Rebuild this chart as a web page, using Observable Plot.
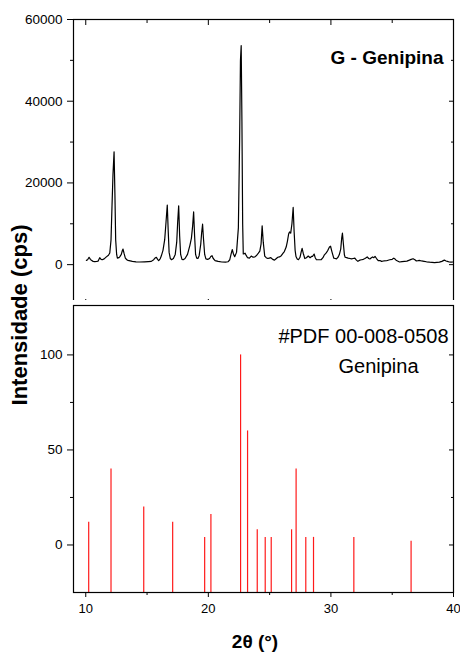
<!DOCTYPE html>
<html>
<head>
<meta charset="utf-8">
<script src="https://cdn.jsdelivr.net/npm/d3@7"></script>
<script src="https://cdn.jsdelivr.net/npm/@observablehq/plot@0.6"></script>
<style>
  html, body { margin: 0; padding: 0; background: #fff; }
  #wrap { position: relative; width: 460px; height: 660px; font-family: Arial, "Liberation Sans", sans-serif; }
  #top, #bot { position: absolute; left: 0; }
  #top { top: 0; }
  #bot { top: 300px; }
  #ylab { position: absolute; left: 20px; top: 315px; transform: translate(-50%, -50%) rotate(-90deg); font-weight: bold; font-size: 22px; white-space: nowrap; }
  #xlab { position: absolute; left: 255px; top: 642px; transform: translate(-50%, -50%); font-weight: bold; font-size: 19px; white-space: nowrap; }
</style>
</head>
<body>
<div id="wrap">
  <div id="top"></div>
  <div id="bot"></div>
  <div id="ylab">Intensidade (cps)</div>
  <div id="xlab">2θ (°)</div>
</div>
<script>
// ---- Data ----
const twoTheta = [10.05,10.15,10.27,10.38,10.46,10.6,10.73,10.9,11.0,11.14,11.25,11.35,11.5,11.68,11.85,11.96,12.06,12.14,12.22,12.31,12.38,12.44,12.52,12.58,12.7,12.77,12.9,12.98,13.04,13.12,13.23,13.35,13.45,13.8,14.1,14.4,14.8,15.1,15.35,15.54,15.65,15.76,15.86,15.95,16.08,16.16,16.3,16.44,16.55,16.65,16.73,16.8,16.9,17.0,17.15,17.3,17.42,17.5,17.58,17.66,17.74,17.85,17.95,18.1,18.3,18.5,18.62,18.72,18.8,18.88,18.96,19.05,19.15,19.25,19.38,19.46,19.53,19.6,19.7,19.8,19.95,20.1,20.2,20.3,20.4,20.55,20.8,21.1,21.4,21.6,21.75,21.85,21.95,22.05,22.15,22.3,22.45,22.55,22.62,22.68,22.74,22.8,22.85,22.93,23.0,23.1,23.2,23.35,23.5,23.65,23.8,23.95,24.08,24.2,24.3,24.39,24.48,24.6,24.72,24.85,24.97,25.1,25.25,25.4,25.55,25.67,25.8,25.95,26.1,26.2,26.35,26.45,26.55,26.62,26.72,26.82,26.92,27.0,27.08,27.15,27.25,27.35,27.48,27.58,27.65,27.74,27.87,28.0,28.15,28.3,28.42,28.5,28.63,28.72,28.82,29.0,29.2,29.35,29.47,29.6,29.75,29.88,29.97,30.08,30.23,30.35,30.45,30.58,30.68,30.8,30.88,30.94,31.02,31.1,31.16,31.28,31.4,31.55,31.68,31.82,31.95,32.08,32.2,32.35,32.5,32.65,32.77,32.87,32.96,33.08,33.18,33.3,33.4,33.5,33.6,33.72,33.86,34.0,34.13,34.3,34.54,34.8,35.0,35.13,35.25,35.35,35.6,35.8,36.0,36.2,36.4,36.55,36.7,36.85,36.97,37.1,37.2,37.4,37.6,37.8,38.05,38.25,38.45,38.65,38.85,39.05,39.25,39.4,39.5,39.65,39.8,39.95];
const counts = [1050,1200,1800,1300,1050,800,730,780,850,1700,1300,1200,1400,1900,2300,2850,6000,14200,22000,27600,17000,6100,2500,1600,1700,1900,2500,3400,3800,2800,1600,1200,1050,800,700,650,700,750,800,1200,1600,1800,1300,1000,1500,2100,3500,6100,10500,14600,8000,3000,1500,1200,1500,2500,5500,10500,14400,7000,2500,1300,1200,1500,2500,4800,6500,9500,12900,7000,2500,1600,1500,2200,5000,8000,9900,6500,2500,1400,1300,1500,2000,2200,1500,1000,800,650,600,700,1200,2500,3700,2600,1950,3000,9000,30000,50000,53600,35000,10000,2600,2700,2800,2200,1700,1600,2100,1800,1900,2300,2800,3300,5000,9500,5500,2100,1700,1500,1600,1700,1300,1100,1500,1800,1900,2200,2800,3200,4300,5700,7500,8000,7700,10000,14000,8000,3500,2000,1400,1200,1800,3200,4000,2800,1500,1700,2100,1700,2000,2000,2600,1700,1200,1200,1200,1700,2400,2800,3500,4300,4500,3200,1600,1500,1400,1800,2400,3800,6500,7700,5000,2400,1800,1700,1600,1500,1400,1500,1600,1100,800,1100,1200,1300,1500,1700,1900,1500,1400,1700,1900,1700,2000,1500,1000,1000,800,900,950,1200,1300,1600,1300,1000,650,750,800,850,1100,1300,1450,1200,900,950,1050,900,800,700,600,550,500,550,600,800,1100,900,800,650,600,650];

// Reference pattern #PDF 00-008-0508 (Genipina)
const refTwoTheta = [10.24,12.06,14.73,17.09,19.7,20.21,22.63,23.2,23.99,24.64,25.13,26.79,27.16,27.95,28.58,31.87,36.54];
const refIntensity = [12,40,20,12,4,16,100,60,8,4,4,8,40,4,4,4,2];

// Axes / ticks
const xDomain = [9, 40];
const xMajor = [10, 20, 30, 40];
const xMinor = [15, 25, 35];
const topDomain = [-10000, 60000];
const topMajor = [0, 20000, 40000, 60000];
const topMinor = [10000, 30000, 50000];
const botDomain = [-25, 126];
const botMajor = [0, 50, 100];
const botMinor = [25, 75];

const titleTop = "G - Genipina";
const titleRef1 = "#PDF 00-008-0508";
const titleRef2 = "Genipina";

// ---- Build tables ----
const pattern = twoTheta.map((t, i) => ({t, c: counts[i]}));
const sticks = refTwoTheta.map((t, i) => ({t, v: refIntensity[i]}));

const style = {fontFamily: "Arial, 'Liberation Sans', sans-serif", fontSize: "13px", color: "black", background: "white", overflow: "visible"};
const blank = () => "";

const topPlot = Plot.plot({
  width: 460, height: 306,
  marginTop: 19, marginBottom: 1, marginLeft: 73, marginRight: 7,
  style,
  x: {domain: xDomain},
  y: {domain: topDomain},
  marks: [
    Plot.line(pattern, {x: "t", y: "c", stroke: "black", strokeWidth: 1.2}),
    Plot.frame({stroke: "black", strokeWidth: 1.2}),
    Plot.axisY({anchor: "left", ticks: topMajor, tickSize: 6, tickPadding: 5, tickFormat: d => String(d), label: null, fontSize: 13.5}),
    Plot.axisY({anchor: "left", ticks: topMinor, tickSize: 3, tickFormat: blank, label: null}),
    Plot.axisY({anchor: "right", ticks: topMajor, tickSize: -5, tickFormat: blank, label: null}),
    Plot.axisY({anchor: "right", ticks: topMinor, tickSize: -3, tickFormat: blank, label: null}),
    Plot.axisX({anchor: "bottom", ticks: xMajor, tickSize: -6, tickFormat: blank, label: null}),
    Plot.axisX({anchor: "bottom", ticks: xMinor, tickSize: -3, tickFormat: blank, label: null}),
    Plot.axisX({anchor: "top", ticks: xMajor, tickSize: -5, tickFormat: blank, label: null}),
    Plot.axisX({anchor: "top", ticks: xMinor, tickSize: -3, tickFormat: blank, label: null}),
    Plot.text([titleTop], {frameAnchor: "top-right", text: d => d, dx: -10, dy: 38, textAnchor: "end", lineAnchor: "middle", fontWeight: "bold", fontSize: 19})
  ]
});
document.getElementById("top").appendChild(topPlot);

const botPlot = Plot.plot({
  width: 460, height: 325,
  marginTop: 5, marginBottom: 33, marginLeft: 73, marginRight: 7,
  style,
  x: {domain: xDomain},
  y: {domain: botDomain},
  marks: [
    Plot.ruleX(sticks, {x: "t", y1: botDomain[0], y2: "v", stroke: "#ff1a1a", strokeWidth: 1.2}),
    Plot.frame({stroke: "black", strokeWidth: 1.2}),
    Plot.axisY({anchor: "left", ticks: botMajor, tickSize: 6, tickPadding: 5, tickFormat: d => String(d), label: null, fontSize: 13.5}),
    Plot.axisY({anchor: "left", ticks: botMinor, tickSize: 3, tickFormat: blank, label: null}),
    Plot.axisY({anchor: "right", ticks: botMajor, tickSize: -5, tickFormat: blank, label: null}),
    Plot.axisY({anchor: "right", ticks: botMinor, tickSize: -3, tickFormat: blank, label: null}),
    Plot.axisX({anchor: "bottom", ticks: xMajor, tickSize: 5, tickPadding: 6, tickFormat: d => String(d), label: null}),
    Plot.axisX({anchor: "bottom", ticks: xMinor, tickSize: 3, tickFormat: blank, label: null}),
    Plot.text([titleRef1], {frameAnchor: "top-right", text: d => d, dx: -5, dy: 31, textAnchor: "end", lineAnchor: "middle", fontSize: 20}),
    Plot.text([titleRef2], {frameAnchor: "top-right", text: d => d, dx: -75, dy: 61, textAnchor: "middle", lineAnchor: "middle", fontSize: 20})
  ]
});
document.getElementById("bot").appendChild(botPlot);
</script>
</body>
</html>
